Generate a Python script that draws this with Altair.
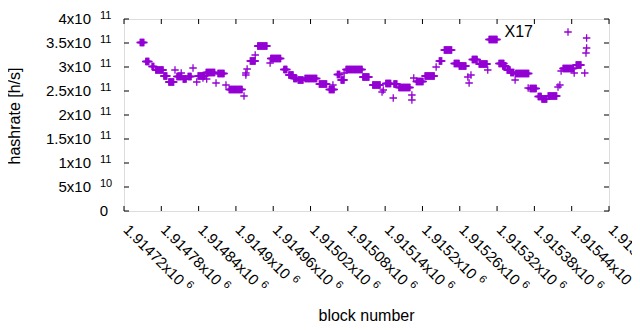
import altair as alt
import pandas as pd

FONT = "Liberation Sans"
PURPLE = "#9400D3"

# runs of consecutive blocks with the same hashrate (GH/s)
run_first = [1914746, 1914755, 1914765, 1914771, 1914784, 1914792, 1914802, 1914805, 1914812, 1914815,
             1914823, 1914831, 1914837, 1914839, 1914847, 1914852, 1914853, 1914868, 1914871, 1914884,
             1914889, 1914913, 1914916, 1914918, 1914916, 1914923, 1914931, 1914935, 1914955, 1914956,
             1914977, 1914985, 1914993, 1915000, 1915011, 1915034, 1915050, 1915056, 1915063, 1915069,
             1915074, 1915077, 1915104, 1915120, 1915135, 1915137, 1915141, 1915153, 1915154, 1915162,
             1915183, 1915183, 1915186, 1915190, 1915204, 1915222, 1915227, 1915235, 1915251, 1915259,
             1915273, 1915275, 1915278, 1915280, 1915291, 1915305, 1915307, 1915323, 1915329, 1915336,
             1915342, 1915349, 1915350, 1915370, 1915373, 1915386, 1915392, 1915402, 1915418, 1915421,
             1915423, 1915426, 1915444, 1915447, 1915461, 1915463, 1915464, 1915464]
run_last = [1914752, 1914760, 1914768, 1914783, 1914789, 1914800, 1914802, 1914813, 1914812, 1914820,
            1914828, 1914831, 1914837, 1914850, 1914847, 1914866, 1914853, 1914868, 1914881, 1914884,
            1914910, 1914913, 1914916, 1914918, 1914916, 1914931, 1914931, 1914950, 1914955, 1914972,
            1914982, 1914992, 1914998, 1915008, 1915030, 1915046, 1915058, 1915056, 1915067, 1915074,
            1915074, 1915103, 1915114, 1915132, 1915135, 1915137, 1915149, 1915153, 1915159, 1915180,
            1915183, 1915183, 1915186, 1915201, 1915219, 1915222, 1915231, 1915247, 1915259, 1915270,
            1915273, 1915275, 1915278, 1915288, 1915304, 1915305, 1915320, 1915331, 1915334, 1915341,
            1915347, 1915349, 1915371, 1915370, 1915383, 1915391, 1915400, 1915416, 1915418, 1915421,
            1915423, 1915443, 1915444, 1915455, 1915461, 1915463, 1915464, 1915464]
run_value = [351.0, 311.5, 301.0, 293.7, 281.2, 268.7, 293.7, 280.2, 287.5, 275.0,
             280.2, 297.9, 268.7, 281.2, 277.1, 288.5, 275.0, 266.7, 286.5, 262.5,
             253.1, 239.6, 287.5, 295.8, 283.3, 312.5, 325.0, 343.7, 308.3, 317.7,
             294.8, 283.3, 276.0, 272.9, 276.0, 264.6, 253.1, 262.5, 284.4, 272.9,
             287.5, 294.8, 279.2, 262.5, 247.9, 252.1, 265.6, 235.4, 264.6, 257.3,
             241.7, 231.2, 277.1, 269.8, 281.2, 300.0, 312.5, 335.4, 307.3, 302.1,
             279.2, 266.7, 283.3, 315.6, 306.2, 293.7, 357.3, 307.3, 302.1, 293.7,
             288.5, 272.9, 286.5, 256.2, 255.2, 238.5, 233.3, 239.6, 258.3, 262.5,
             291.7, 296.9, 287.5, 304.2, 287.5, 329.2, 339.6, 360.4]

x_ticks = [1914720, 1914780, 1914840, 1914900, 1914960, 1915020, 1915080,
           1915140, 1915200, 1915260, 1915320, 1915380, 1915440, 1915500]
x_mant = ["1.91472", "1.91478", "1.91484", "1.9149", "1.91496", "1.91502", "1.91508",
          "1.91514", "1.9152", "1.91526", "1.91532", "1.91538", "1.91544", "1.9155"]
y_ticks = [0, 5e10, 1e11, 1.5e11, 2e11, 2.5e11, 3e11, 3.5e11, 4e11]
y_mant = ["0", "5x10", "1x10", "1.5x10", "2x10", "2.5x10", "3x10", "3.5x10", "4x10"]
y_exp = ["", "10", "11", "11", "11", "11", "11", "11", "11"]
x_title = "block number"
y_title = "hashrate [h/s]"
series_name = "X17"

rows = []
for s, e, v in zip(run_first, run_last, run_value):
    for b in range(s, e + 1):
        rows.append({"block": b, "hashrate": v * 1e9})
df = pd.DataFrame(rows)

W, H = 485, 192
xscale = alt.Scale(domain=[1914720, 1915500], nice=False, zero=False)
yscale = alt.Scale(domain=[0, 4e11], nice=False)
PLUS = "M-1,0H1M0,-1V1"

points = alt.Chart(df).mark_point(shape=PLUS, filled=False, size=56, strokeWidth=1.3,
                                  color=PURPLE, opacity=1).encode(
    x=alt.X("block:Q", scale=xscale, axis=None),
    y=alt.Y("hashrate:Q", scale=yscale, axis=None),
)

xt = pd.DataFrame({"b": x_ticks, "mant": x_mant, "n": [len(m) for m in x_mant]})
xt["base"] = xt["mant"] + "x10"
xt["exp"] = "6"
yt = pd.DataFrame({"v": y_ticks, "mant": y_mant, "exp": y_exp})

tick_left = alt.Chart(yt).mark_rule(color="black", strokeWidth=1).encode(
    y=alt.Y("v:Q", scale=yscale, axis=None), x=alt.value(0), x2=alt.value(5))
tick_right = alt.Chart(yt).mark_rule(color="black", strokeWidth=1).encode(
    y=alt.Y("v:Q", scale=yscale, axis=None), x=alt.value(W - 5), x2=alt.value(W))
tick_bottom = alt.Chart(xt).mark_rule(color="black", strokeWidth=1).encode(
    x=alt.X("b:Q", scale=xscale, axis=None), y=alt.value(H - 5), y2=alt.value(H))
tick_top = alt.Chart(xt).mark_rule(color="black", strokeWidth=1).encode(
    x=alt.X("b:Q", scale=xscale, axis=None), y=alt.value(0), y2=alt.value(5))

ylab_base = alt.Chart(yt).transform_filter("datum.exp != ''").mark_text(
    align="right", baseline="middle", font=FONT, fontSize=15, color="black").encode(
    y=alt.Y("v:Q", scale=yscale, axis=None), x=alt.value(-33), text="mant:N")
ylab_exp = alt.Chart(yt).transform_filter("datum.exp != ''").mark_text(
    align="left", baseline="middle", font=FONT, fontSize=11, color="black", dy=-3).encode(
    y=alt.Y("v:Q", scale=yscale, axis=None), x=alt.value(-24), text="exp:N")
ylab_zero = alt.Chart(yt).transform_filter("datum.exp == ''").mark_text(
    align="right", baseline="middle", font=FONT, fontSize=15, color="black").encode(
    y=alt.Y("v:Q", scale=yscale, axis=None), x=alt.value(-16), text="mant:N")

xlab_base = alt.Chart(xt).mark_text(
    align="left", baseline="middle", font=FONT, fontSize=15, color="black",
    angle=45, dx=3).encode(
    x=alt.X("b:Q", scale=xscale, axis=None), y=alt.value(H + 14), text="base:N")
xlab_exp7 = alt.Chart(xt).transform_filter("datum.n == 7").mark_text(
    align="left", baseline="middle", font=FONT, fontSize=11, color="black",
    angle=45, dx=86, dy=-4).encode(
    x=alt.X("b:Q", scale=xscale, axis=None), y=alt.value(H + 14), text="exp:N")
xlab_exp6 = alt.Chart(xt).transform_filter("datum.n == 6").mark_text(
    align="left", baseline="middle", font=FONT, fontSize=11, color="black",
    angle=45, dx=78, dy=-4).encode(
    x=alt.X("b:Q", scale=xscale, axis=None), y=alt.value(H + 14), text="exp:N")

titles = pd.DataFrame({"t": [x_title, y_title]})
xtitle = alt.Chart(titles).transform_filter(alt.datum.t == x_title).mark_text(
    align="center", baseline="middle", font=FONT, fontSize=16, color="black").encode(
    x=alt.value(W / 2), y=alt.value(297), text="t:N")
ytitle = alt.Chart(titles).transform_filter(alt.datum.t == y_title).mark_text(
    align="center", baseline="middle", font=FONT, fontSize=16, color="black",
    angle=270).encode(
    x=alt.value(-109), y=alt.value(97), text="t:N")

one = pd.DataFrame({"label": [series_name]})
key_text = alt.Chart(one).mark_text(align="right", baseline="middle", font=FONT,
                                    fontSize=16, color="black").encode(
    x=alt.value(409), y=alt.value(13), text="label:N")
key_point = alt.Chart(one).mark_point(shape=PLUS, filled=False, size=56, strokeWidth=1.3,
                                      color=PURPLE, opacity=1).encode(
    x=alt.value(444), y=alt.value(13))

chart = alt.layer(
    points, tick_left, tick_right, tick_bottom, tick_top,
    ylab_base, ylab_exp, ylab_zero, xlab_base, xlab_exp7, xlab_exp6,
    xtitle, ytitle, key_text, key_point
).properties(
    width=W, height=H,
    autosize=alt.AutoSizeParams(type="none"),
    padding={"left": 116, "top": 11, "right": 23, "bottom": 110},
).configure_view(stroke="black", strokeWidth=1).configure(font=FONT)

chart.save("out.html", embed_options={"renderer": "svg", "actions": False})
